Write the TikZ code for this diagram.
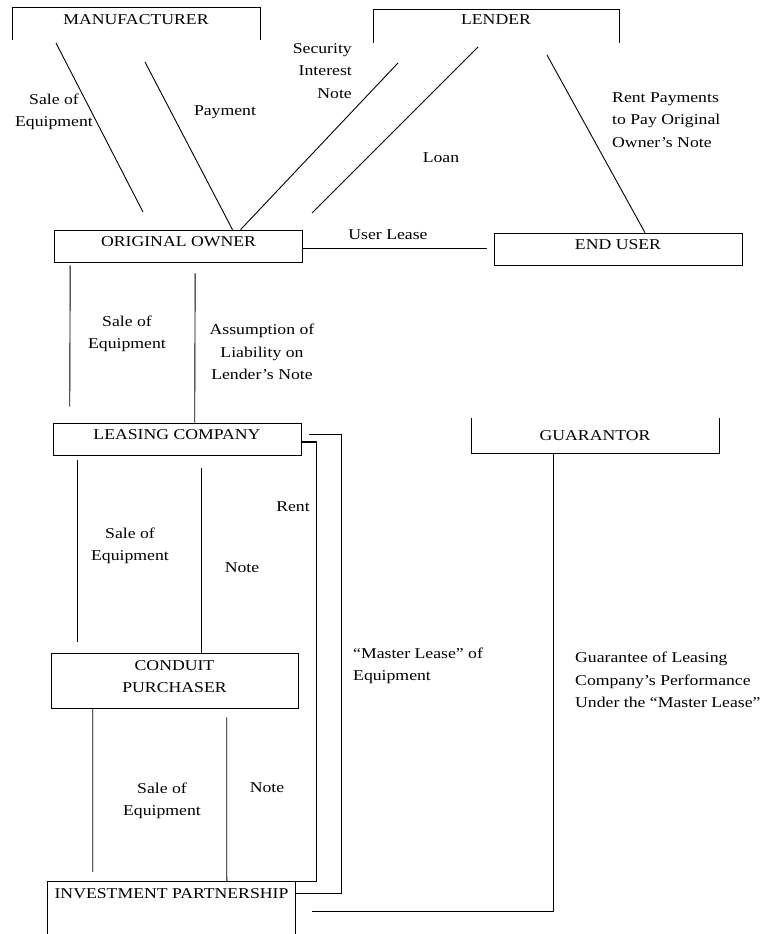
\documentclass[tikz,border=0pt]{standalone}
\usepackage{fontspec}
\setmainfont{Liberation Serif}[FakeStretch=1.18]
\usetikzlibrary{calc}
\usetikzlibrary{positioning}

\tikzset{
  party/.style={minimum width=248pt, minimum height=32pt, inner sep=0pt, text depth=8pt},
  box/.style={party, draw, line width=0.6pt},
  frame/.style={line width=0.6pt},
  deal/.style={line width=0.9pt},
  lbl/.style={inner sep=0pt},
}

\begin{document}
\begin{tikzpicture}[x=1pt, y=-1pt, font=\fontsize{15}{22.5}\selectfont]
  \useasboundingbox (0,0) rectangle (765,934);

  % parties
  \node[party] (mfr) at (136,24) {MANUFACTURER};
  \node[party, minimum width=246pt, minimum height=33pt, text depth=13pt] (lender) at (496,26.5) {LENDER};
  \node[box] (oo) at (178.5,246) {ORIGINAL OWNER};
  \node[box] (eu) at (618,249) {END USER};
  \node[box] (lc) at (177,439) {LEASING COMPANY};
  \node[party, minimum height=35pt, text depth=0pt] (gu) at (595,435.5) {GUARANTOR};
  \node[box, minimum width=247pt, minimum height=55pt, align=center] (cp) at (174.5,680.5) {CONDUIT\\PURCHASER};
  \node[party, minimum width=247pt] (ip) at (171.5,898) {INVESTMENT PARTNERSHIP};

  % open frames
  \draw[frame] (mfr.south west) |- (mfr.north east) -- (mfr.south east);
  \draw[frame] (lender.south west) |- (lender.north east) -- (lender.south east);
  \draw[frame] (gu.north west) |- (gu.south east) -- (gu.north east);
  \draw[deal] ($(ip.north west)+(0,52)$) |- (ip.north east) -- ++(0,52);

  % manufacturer and lender
  \coordinate (s1) at (56,43);
  \coordinate (s2) at (143,212);
  \draw[deal] (s1) -- (s2);
  \coordinate (p1) at (145,62);
  \draw[deal] (p1) -- ([xshift=54pt]oo.north);
  \coordinate (n1) at (398,63);
  \draw[deal] ([xshift=62pt]oo.north) -- (n1);
  \coordinate (l1) at (312,213);
  \coordinate (l2) at (478,47);
  \draw[deal] (l1) -- (l2);
  \coordinate (r1) at (547,55);
  \draw[deal] (r1) -- ([xshift=27pt]eu.north);
  \draw[deal, shorten >=7pt] ([yshift=-2pt]oo.east) -- ([yshift=1pt]eu.west);

  % down the chain
  \draw[deal, shorten <=3pt, shorten >=16pt] ($(oo.south west)+(16,0)$) -- ($(lc.north west)+(17,0)$);
  \draw[deal, shorten <=11pt] ($(oo.south west)+(141,0)$) -- ($(lc.north west)+(142,0)$);
  \draw[deal, shorten <=5pt, shorten >=11pt] ($(lc.south west)+(25,0)$) -- ($(cp.north west)+(27,0)$);
  \draw[deal, shorten <=13pt] ($(lc.south west)+(149,0)$) -- ($(cp.north west)+(151,0)$);
  \draw[deal, shorten >=10pt] ($(cp.south west)+(42,0)$) -- ($(ip.north west)+(45,0)$);
  \draw[deal, shorten <=9pt] ($(cp.south west)+(176,0)$) -- ($(ip.north west)+(179,0)$);

  % rent, master lease, guarantee
  \draw[line width=1.3pt] ([yshift=-3pt]lc.east) -- ++(15,0) |- (ip.north east);
  \draw[frame, shorten <=8pt] ([yshift=5pt]lc.east) -- ++(40,0) |- ([yshift=5pt]ip.east);
  \coordinate (g1) at (312,911);
  \draw[frame] ([xshift=-42pt]gu.south) |- (g1);

  % labels
  \node[lbl, align=center] (lsale1) at (54,112) {Sale of\\Equipment};
  \node[lbl] (lpay) at (225,112) {Payment};
  \node[lbl, align=right, anchor=east] (lsec) at (352,71) {Security\\Interest\\Note};
  \node[lbl] (lloan) at (441,158) {Loan};
  \node[lbl, align=left, anchor=west] (lrentpay) at (612,120) {Rent Payments\\to Pay Original\\Owner's Note};
  \node[lbl] (luser) at (388,235) {User Lease};
  \node[lbl, align=center] (lsale2) at (127,334) {Sale of\\Equipment};
  \node[lbl, align=center] (lassume) at (262,352) {Assumption of\\Liability on\\Lender's Note};
  \node[lbl, align=center] (lsale3) at (130,546) {Sale of\\Equipment};
  \node[lbl] (lnote1) at (242,568) {Note};
  \node[lbl] (lrent) at (293,507) {Rent};
  \node[lbl, align=center] (lsale4) at (162,801) {Sale of\\Equipment};
  \node[lbl] (lnote2) at (267,788) {Note};
  \node[lbl, align=left, anchor=west] (lmaster) at (353,666) {``Master Lease'' of\\Equipment};
  \node[lbl, align=left, anchor=west] (lguar) at (575,680) {Guarantee of Leasing\\Company's Performance\\Under the ``Master Lease''};
\end{tikzpicture}
\end{document}
